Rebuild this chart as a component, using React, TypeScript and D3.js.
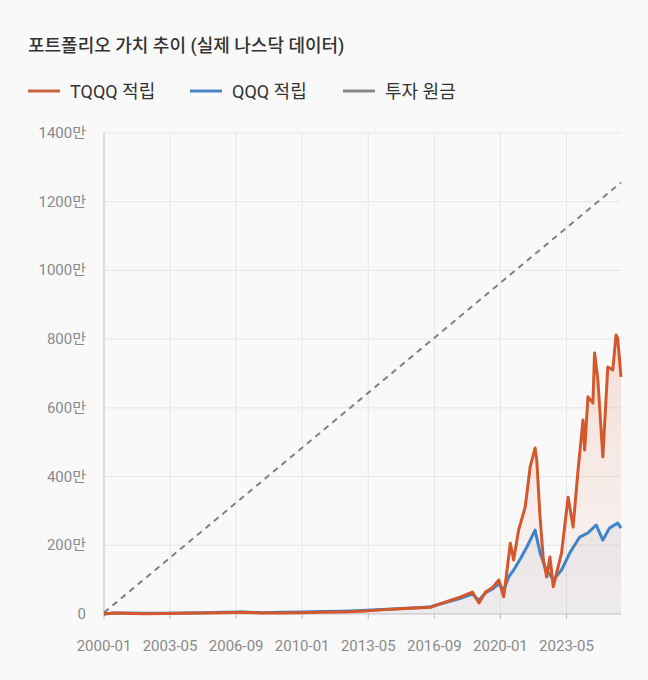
import * as d3 from 'd3';
import React, { useEffect, useRef } from 'react';

// month index from 2000-01
const tqqqMonths = [0, 6, 12, 24, 36, 48, 60, 72, 84, 96, 108, 120, 132, 144, 156, 168, 180, 192, 198, 204, 210, 216, 223, 227, 231, 235, 239, 242, 246, 248, 251, 255, 258, 261, 262, 264, 266, 268, 270, 272, 274, 277, 281, 284, 287, 290, 291, 293, 296, 297, 299, 302, 305, 308, 310, 311, 313];
const tqqqValues = [0, 3, 2, 1, 1.5, 2, 3, 4, 5, 3, 3, 4, 5, 6, 8, 12, 15, 18, 20, 30, 40, 50, 64, 32, 64, 76, 99, 50, 206, 157, 244, 311, 428, 483, 448, 282, 157, 108, 166, 79, 119, 178, 340, 253, 419, 565, 477, 632, 614, 760, 681, 457, 719, 710, 812, 803, 690];
const qqqMonths = [0, 6, 12, 24, 36, 48, 60, 72, 84, 96, 108, 120, 132, 144, 156, 168, 180, 192, 198, 204, 210, 216, 223, 227, 231, 235, 239, 242, 245, 248, 252, 256, 261, 264, 267, 272, 277, 282, 288, 293, 298, 302, 306, 311, 313];
const qqqValues = [0, 3, 3, 2, 2.5, 3, 4, 5, 6, 4, 5, 6, 7, 8, 10, 13, 16, 19, 21, 30, 38, 46, 58, 40, 62, 72, 88, 70, 108, 128, 160, 195, 244, 178, 137, 99, 128, 178, 224, 236, 259, 215, 250, 265, 250];
const monthlyContribution = 4; // 만원
const totalMonths = 314;
const tickLabels = ['2000-01', '2003-05', '2006-09', '2010-01', '2013-05', '2016-09', '2020-01', '2023-05'];
const yTicks = [0, 200, 400, 600, 800, 1000, 1200, 1400];

const width = 648;
const height = 680;
const m = { left: 104, right: 27, top: 133, bottom: 66 };
const font = "Roboto, 'Noto Sans CJK KR', sans-serif";

const App: React.FC = () => {
  const ref = useRef<SVGSVGElement>(null);

  useEffect(() => {
    if (!ref.current) return;
    const svg = d3.select(ref.current);
    svg.selectAll('*').remove();

    const x = d3.scaleLinear().domain([0, totalMonths - 1]).range([m.left, width - m.right]);
    const y = d3.scaleLinear().domain([0, 1400]).range([height - m.bottom, m.top]);

    svg.append('rect').attr('width', width).attr('height', height).attr('fill', '#f9f9f9');

    const defs = svg.append('defs');
    const g1 = defs.append('linearGradient').attr('id', 'tq').attr('x1', 0).attr('x2', 0).attr('y1', 0).attr('y2', 1);
    g1.append('stop').attr('offset', '0%').attr('stop-color', '#e0643a').attr('stop-opacity', 0.18);
    g1.append('stop').attr('offset', '100%').attr('stop-color', '#e0643a').attr('stop-opacity', 0.02);

    // grid
    yTicks.forEach((t) => {
      svg.append('line').attr('x1', m.left).attr('x2', width - m.right).attr('y1', y(t)).attr('y2', y(t))
        .attr('stroke', '#e6e6e6').attr('stroke-width', 1);
      svg.append('text').attr('x', 86).attr('y', y(t) + 5).attr('text-anchor', 'end')
        .attr('font-size', 15).attr('fill', '#8a8a8a').attr('font-family', font).text(`${t}${t ? '만' : ''}`);
    });
    tickLabels.forEach((_, i) => {
      const xx = x(i * 40);
      svg.append('line').attr('x1', xx).attr('x2', xx).attr('y1', m.top).attr('y2', height - m.bottom)
        .attr('stroke', '#e6e6e6');
      svg.append('line').attr('x1', xx).attr('x2', xx).attr('y1', height - m.bottom).attr('y2', height - m.bottom + 5)
        .attr('stroke', '#bbb');
      svg.append('text').attr('x', xx).attr('y', 651).attr('text-anchor', 'middle')
        .attr('font-size', 15).attr('fill', '#8a8a8a').attr('font-family', font).text(tickLabels[i]);
    });
    svg.append('line').attr('x1', m.left).attr('x2', m.left).attr('y1', m.top).attr('y2', height - m.bottom).attr('stroke', '#ccc');
    svg.append('line').attr('x1', m.left).attr('x2', width - m.right).attr('y1', y(0)).attr('y2', y(0)).attr('stroke', '#ccc');

    const tq = tqqqMonths.map((mo, i) => [mo, tqqqValues[i]] as [number, number]);
    const qq = qqqMonths.map((mo, i) => [mo, qqqValues[i]] as [number, number]);
    const area = d3.area<[number, number]>().x((d) => x(d[0])).y0(y(0)).y1((d) => y(d[1]));
    const line = d3.line<[number, number]>().x((d) => x(d[0])).y((d) => y(d[1]));

    svg.append('path').attr('d', area(tq)).attr('fill', 'url(#tq)');
    svg.append('path').attr('d', area(qq)).attr('fill', 'rgba(120,120,160,0.08)');

    const principal = d3.range(totalMonths).map((i) => [i, monthlyContribution * (i + 1)] as [number, number]);
    svg.append('path').attr('d', line(principal)).attr('fill', 'none').attr('stroke', '#808080')
      .attr('stroke-width', 2).attr('stroke-dasharray', '6,5');
    svg.append('path').attr('d', line(qq)).attr('fill', 'none').attr('stroke', '#3d84c9').attr('stroke-width', 3)
      .attr('stroke-linejoin', 'round');
    svg.append('path').attr('d', line(tq)).attr('fill', 'none').attr('stroke', '#d5582d').attr('stroke-width', 3)
      .attr('stroke-linejoin', 'round');

    svg.append('text').attr('x', 28).attr('y', 52).attr('font-size', 18).attr('font-weight', 500)
      .attr('fill', '#333').attr('font-family', font).text('포트폴리오 가치 추이 (실제 나스닥 데이터)');

    const legend = [
      { label: 'TQQQ 적립', color: '#c9663f', x: 28 },
      { label: 'QQQ 적립', color: '#4a86c5', x: 190 },
      { label: '투자 원금', color: '#888', x: 343 },
    ];
    legend.forEach((l) => {
      svg.append('line').attr('x1', l.x).attr('x2', l.x + 32).attr('y1', 91).attr('y2', 91)
        .attr('stroke', l.color).attr('stroke-width', 3);
      svg.append('text').attr('x', l.x + 42).attr('y', 98).attr('font-size', 18).attr('fill', '#333')
        .attr('font-family', font).text(l.label);
    });
  }, []);

  return (
    <div style={{ position: 'fixed', left: 0, top: 0 }}>
      <svg ref={ref} width={width} height={height} viewBox={`0 0 ${width} ${height}`} style={{ display: 'block' }} />
    </div>
  );
};

export default App;
